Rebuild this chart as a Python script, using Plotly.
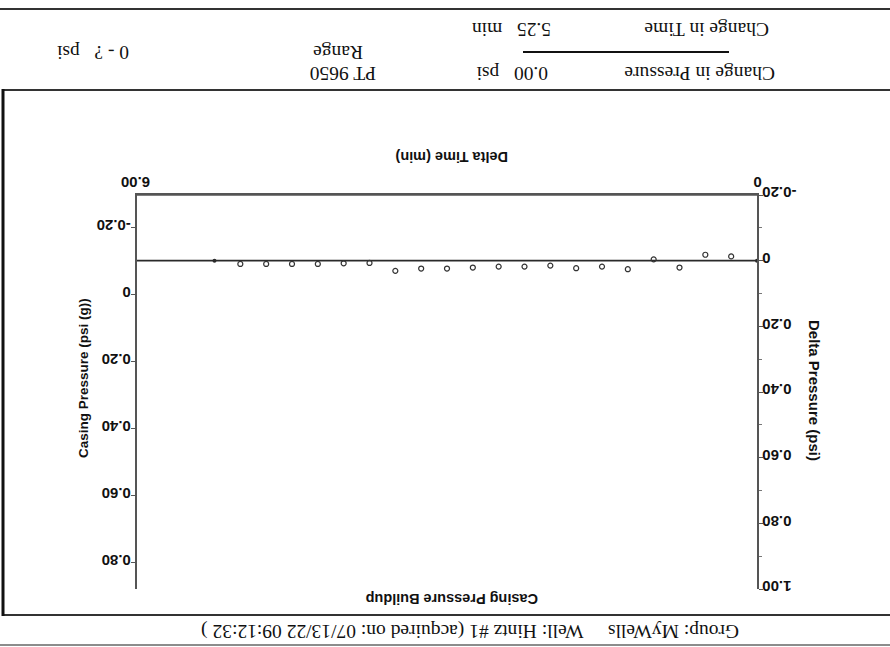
import plotly.graph_objects as go

# ---------------- data ----------------
delta_time = [0.25, 0.5, 0.75, 1.0, 1.25, 1.5, 1.75, 2.0, 2.25, 2.5,
              2.75, 3.0, 3.25, 3.5, 3.75, 4.0, 4.25, 4.5, 4.75, 5.0]
delta_pressure = [-0.013, -0.018, 0.021, -0.004, 0.026, 0.018, 0.023, 0.015, 0.018, 0.018,
                  0.021, 0.024, 0.024, 0.031, 0.007, 0.008, 0.010, 0.010, 0.010, 0.010]
endpoint_time = [0.0, 5.25]
endpoint_delta = [0.0, 0.0]
trend_time = [0.0, 6.0]
trend_delta = [0.0, 0.0]

x_ticks = [0, 6]
x_ticktext = ["\u00a0\u00a00", "6.00"]
left_ticks = [-0.2, 0, 0.2, 0.4, 0.6, 0.8]
left_ticktext = ["-0.20", "0", "0.20", "0.40", "0.60", "0.80"]
right_ticks = [-0.2, 0, 0.2, 0.4, 0.6, 0.8, 1.0]
right_ticktext = ["-0.20", "0", "0.20", "0.40", "0.60", "0.80", "1.00"]

title = "Casing Pressure Buildup"
footer = "Group: MyWells\u00a0\u00a0\u00a0\u00a0\u00a0Well: Hintz #1 (acquired on: 07/13/22 09:12:32 )"
x_title = "Delta Time (min)"
left_title = "Casing Pressure (psi (g))"
right_title = "Delta Pressure (psi)"
header = [
    ("Change in Time", 707, 30),
    ("5.25\u00a0\u00a0 min", 512, 30),
    ("Change in Pressure", 700, 73),
    ("0.00\u00a0\u00a0 psi", 512, 73),
    ("PT 9650", 343, 73),
    ("Range", 338, 52),
    ("0 - ?\u00a0\u00a0 psi", 93, 52),
]

# ---------------- layout helpers ----------------
W, H = 890, 647
def px(x):
    return x / W
def py(y):
    return 1 - y / H

INK = "#2a2a2a"
AXIS = "#555"
SANS = "Liberation Sans, Arial, sans-serif"
SERIF = "Liberation Serif, Times New Roman, serif"

PLOT_L, PLOT_R, PLOT_T, PLOT_B = 137, 757, 195, 589

fig = go.Figure()

fig.add_trace(go.Scatter(x=trend_time, y=trend_delta, mode="lines",
                         line=dict(color=INK, width=1.6), yaxis="y2",
                         showlegend=False, hoverinfo="skip"))
fig.add_trace(go.Scatter(x=delta_time, y=delta_pressure, mode="markers",
                         marker=dict(symbol="circle-open", size=5, color="#333",
                                     line=dict(width=1.2)),
                         yaxis="y2", showlegend=False))
fig.add_trace(go.Scatter(x=endpoint_time, y=endpoint_delta, mode="markers",
                         marker=dict(symbol="circle", size=4, color=INK),
                         yaxis="y2", showlegend=False))
# invisible trace to activate left axis
fig.add_trace(go.Scatter(x=[None], y=[None], yaxis="y", showlegend=False))

tickfont = dict(family=SANS, size=15, color="#111", weight=700)

fig.update_layout(
    width=W, height=H,
    margin=dict(l=0, r=0, t=0, b=0, pad=0),
    paper_bgcolor="white", plot_bgcolor="white",
    xaxis=dict(domain=[px(PLOT_L), px(PLOT_R)], range=[6, 0], side="top",
               tickvals=x_ticks, ticktext=x_ticktext, tickangle=180,
               ticklabelshift=-13, ticklabelstandoff=-5,
               tickfont=tickfont, showgrid=False, zeroline=False,
               showline=True, linecolor=AXIS, linewidth=1.5,
               ticks="", anchor="y", automargin=False),
    yaxis=dict(domain=[py(PLOT_B), py(PLOT_T)], range=[0.878, -0.2985], side="left",
               tickvals=left_ticks, ticktext=left_ticktext, tickangle=180,
               ticklabelposition="inside", ticklabelstandoff=-6,
               ticklabeloverflow="allow", ticklabelshift=-2,
               tickfont=tickfont, showgrid=False, zeroline=False,
               showline=True, linecolor=AXIS, linewidth=1.5,
               ticks="outside", ticklen=4, tickcolor=AXIS, anchor="x",
               automargin=False),
    yaxis2=dict(domain=[py(PLOT_B), py(PLOT_T)], range=[1.0, -0.2], side="right",
                overlaying="y", anchor="x",
                tickvals=right_ticks, ticktext=right_ticktext, tickangle=180,
                ticklabelposition="inside", ticklabelstandoff=-5,
                ticklabeloverflow="allow", ticklabelshift=-2,
                tickfont=tickfont, showgrid=False, zeroline=False,
                showline=True, linecolor=AXIS, linewidth=1.5,
                ticks="outside", ticklen=4, tickcolor=AXIS,
                minor=dict(ticks="outside", dtick=0.1, ticklen=3, tickcolor="#777"),
                automargin=False),
)

ann = []
def text(t, x, y, size, family, angle=180, bold=False, color="#111"):
    ann.append(dict(text=t, x=px(x), y=py(y), xref="paper", yref="paper",
                    xanchor="center", yanchor="middle", showarrow=False,
                    textangle=angle,
                    font=dict(family=family, size=size, color=color,
                              weight=700 if bold else 400)))

text(x_title, 452, 157, 14.5, SANS, bold=True)
text(left_title, 83, 378, 13.5, SANS, angle=-90, bold=True)
text(right_title, 815, 390, 15, SANS, angle=90, bold=True)
text(title, 451, 599, 14.5, SANS, bold=True)
text(footer, 470, 631, 19.5, SERIF)
for t, x, y in header:
    text(t, x, y, 19.5, SERIF)
fig.update_layout(annotations=ann)

shapes = []
def line(x0, y0, x1, y1, w=1.5, c="#333"):
    shapes.append(dict(type="line", xref="paper", yref="paper",
                       x0=px(x0), y0=py(y0), x1=px(x1), y1=py(y1),
                       line=dict(color=c, width=w)))
line(0, 9, 890, 9, 2)
line(3, 90, 890, 90, 2)
line(3, 615, 890, 615, 2)
line(3, 89, 3, 616, 3, "#111")
line(0, 645, 890, 645, 1.5, "#666")
line(523, 52, 729, 52, 2, "#111")
# top frame of the plot area (time axis line)
line(PLOT_L, PLOT_T, PLOT_R, PLOT_T, 1.5, AXIS)
fig.update_layout(shapes=shapes)

fig.write_html("out.html", config={"displayModeBar": False},
               post_script="document.body.style.margin='0';document.body.style.overflow='hidden';")
